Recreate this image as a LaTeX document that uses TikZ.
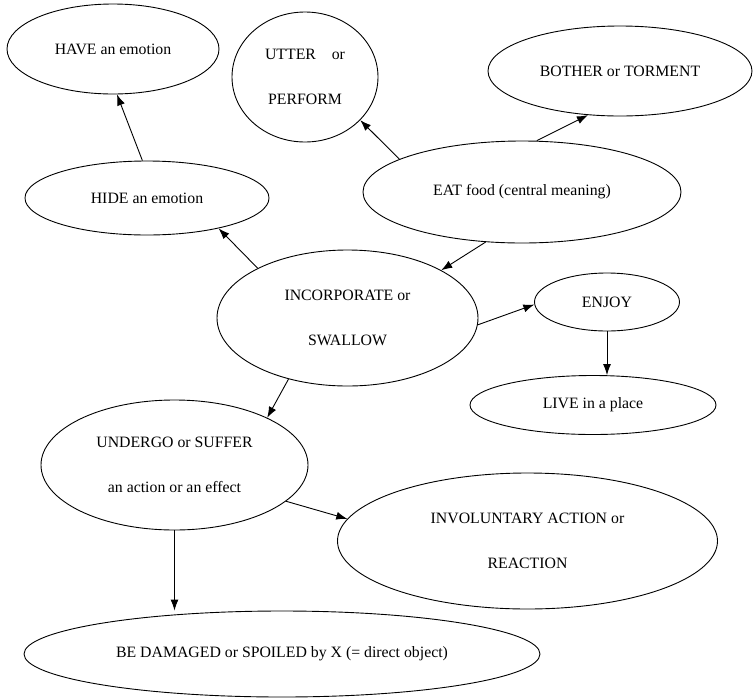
\documentclass[tikz,border=0pt]{standalone}
\usepackage{fontspec}
\setmainfont{Liberation Serif}
\usetikzlibrary{shapes.geometric,arrows.meta}

\begin{document}
\begin{tikzpicture}[x=1pt,y=-1pt,
    sense/.style={draw,ellipse,inner sep=0pt,align=center,line width=0.9pt,
      font=\fontsize{15.8}{45}\selectfont},
    link/.style={line width=0.9pt,-{Latex[length=11pt,width=8pt]}}]
        \useasboundingbox (0,0) rectangle (753,697);

        \node[sense,minimum width=212pt,minimum height=90pt] (HAVE) at (113,49) {HAVE an emotion};
        \node[sense,minimum width=146pt,minimum height=130pt] (UTTER) at (305,77) {UTTER\quad or\\PERFORM};
        \node[sense,minimum width=264pt,minimum height=90pt] (BOTHER) at (620,71) {BOTHER or TORMENT};
        \node[sense,minimum width=318pt,minimum height=102pt] (EAT) at (522,192) {EAT food (central meaning)};
        \node[sense,minimum width=244pt,minimum height=74pt] (HIDE) at (147,198) {HIDE an emotion};
        \node[sense,minimum width=261pt,minimum height=136pt] (INC) at (347.5,318) {INCORPORATE or\\SWALLOW};
        \node[sense,minimum width=145pt,minimum height=58pt] (ENJOY) at (607,302) {ENJOY};
        \node[sense,minimum width=246pt,minimum height=59pt] (LIVE) at (593,405) {LIVE in a place};
        \node[sense,minimum width=267pt,minimum height=130pt] (UNDERGO) at (174.5,465) {UNDERGO or SUFFER\\an action or an effect};
        \node[sense,minimum width=380pt,minimum height=136pt] (INVOL) at (527.5,541) {INVOLUNTARY ACTION or\\REACTION};
        \node[sense,minimum width=516pt,minimum height=86pt] (DAMAGED) at (282,654) {BE DAMAGED or SPOILED by X (= direct object)};

        % links out of the central meaning
        \draw[link] (EAT.165) -- (UTTER.-38);
        \draw[link] (EAT.74.5) -- (BOTHER.-126);
        \draw[link] (EAT.-126) -- (INC.27);

        \draw[link] (INC.151) -- (HIDE.-23);
        \draw[link] (HIDE.97.5) -- (HAVE.-85);
        \draw[link] (INC.-3.6) -- (ENJOY.182);
        \draw[link] (ENJOY.south) -- (ENJOY.south |- LIVE.north);
        \draw[link] (INC.-134) -- (UNDERGO.27);
        \draw[link] (UNDERGO.-18) -- (INVOL.173.4);
        \draw[link] (UNDERGO.south) -- (UNDERGO.south |- DAMAGED.north);
      \end{tikzpicture}
\end{document}
